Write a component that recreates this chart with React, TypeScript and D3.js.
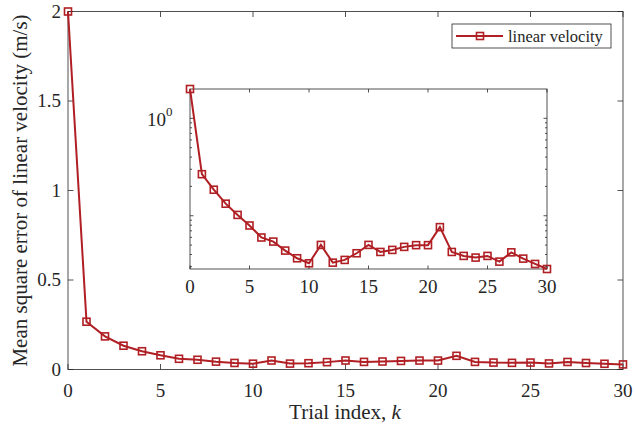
import React from "react";
import * as d3 from "d3";

const trials = d3.range(0, 31);
const mse = [
  2.0, 0.267, 0.185, 0.133, 0.102, 0.0794, 0.0598, 0.0543, 0.0439, 0.0366, 0.0325,
  0.0502, 0.033, 0.0352, 0.0412, 0.0502, 0.0425, 0.0446, 0.0479, 0.0499, 0.0499,
  0.0764, 0.0425, 0.0387, 0.0372, 0.0387, 0.0338, 0.0421, 0.0363, 0.032, 0.0284,
];
const mainXTicks = [0, 5, 10, 15, 20, 25, 30];
const mainYTicks = [0, 0.5, 1, 1.5, 2];
const mainYTickLabels = ["0", "0.5", "1", "1.5", "2"];
const insetXTicks = [0, 5, 10, 15, 20, 25, 30];
const insetMajorY = [0.1, 1];
const insetMinorY = [0.03, 0.04, 0.05, 0.06, 0.07, 0.08, 0.09, 0.2, 0.3, 0.4, 0.5, 0.6, 0.7, 0.8, 0.9];
const seriesName = "linear velocity";
const xLabel = "Trial index, ";
const yLabel = "Mean square error of linear velocity (m/s)";

const RED = "#B01F24";
const AX = "#262626";
const FONT = "Liberation Serif, Times New Roman, Times, serif";

function Marker({ x, y, s = 7 }: { x: number; y: number; s?: number }) {
  return (
    <rect x={x - s / 2} y={y - s / 2} width={s} height={s} fill="none" stroke={RED} strokeWidth={1.6} />
  );
}

export default function App() {
  const W = 635, H = 432;
  const x = d3.scaleLinear().domain([0, 30]).range([68, 623]);
  const y = d3.scaleLinear().domain([0, 2]).range([369.5, 11.5]);
  const ext = d3.extent(mse) as [number, number];
  const xi = d3.scaleLinear().domain([0, 30]).range([190, 547]);
  const yi = d3.scaleLog().domain(ext).range([269, 89]);

  const lineMain = d3.line<number>().x((_, i) => x(trials[i])).y((d) => y(d));
  const lineIn = d3.line<number>().x((_, i) => xi(trials[i])).y((d) => yi(d));

  const tl = 5.5;
  const tli = 3.5;
  const fsTick = 19;
  const fsLabel = 21;

  return (
    <svg width={W} height={H} style={{ position: "absolute", left: 0, top: 0, background: "#fff", fontFamily: FONT }}>
      <rect x={0} y={0} width={W} height={H} fill="#fff" />
      {/* main axes box */}
      <rect x={x(0)} y={y(2)} width={x(30) - x(0)} height={y(0) - y(2)} fill="#fff" stroke={AX} strokeWidth={0.8} />
      {mainXTicks.map((t) => (
        <g key={"mx" + t}>
          <line x1={x(t)} x2={x(t)} y1={y(0)} y2={y(0) - tl} stroke={AX} strokeWidth={0.8} />
          <line x1={x(t)} x2={x(t)} y1={y(2)} y2={y(2) + tl} stroke={AX} strokeWidth={0.8} />
          <text x={x(t)} y={397} textAnchor="middle" fontSize={fsTick} fill={AX}>{t}</text>
        </g>
      ))}
      {mainYTicks.map((t, i) => (
        <g key={"my" + t}>
          <line x1={x(0)} x2={x(0) + tl} y1={y(t)} y2={y(t)} stroke={AX} strokeWidth={0.8} />
          <line x1={x(30)} x2={x(30) - tl} y1={y(t)} y2={y(t)} stroke={AX} strokeWidth={0.8} />
          <text x={61} y={y(t) + fsTick * 0.33} textAnchor="end" fontSize={fsTick} fill={AX}>{mainYTickLabels[i]}</text>
        </g>
      ))}
      <path d={lineMain(mse) || ""} fill="none" stroke={RED} strokeWidth={2} />
      {mse.map((d, i) => <Marker key={"mm" + i} x={x(trials[i])} y={y(d)} />)}
      <text x={345} y={419} textAnchor="middle" fontSize={fsLabel} fill={AX}>
        {xLabel}<tspan fontStyle="italic">k</tspan>
      </text>
      <text transform={`translate(27, ${(y(0) + y(2)) / 2}) rotate(-90)`} textAnchor="middle" fontSize={fsLabel} fill={AX}>
        {yLabel}
      </text>

      {/* legend */}
      <rect x={452} y={24} width={159} height={24} fill="#fff" stroke={AX} strokeWidth={0.8} />
      <line x1={456} x2={503} y1={36} y2={36} stroke={RED} strokeWidth={2} />
      <Marker x={480} y={36} />
      <text x={508} y={41.5} fontSize={16.5} fill={AX}>{seriesName}</text>

      {/* inset */}
      <rect x={xi(0)} y={yi(ext[1])} width={xi(30) - xi(0)} height={yi(ext[0]) - yi(ext[1])} fill="#fff" stroke={AX} strokeWidth={0.8} />
      {insetXTicks.map((t) => (
        <g key={"ix" + t}>
          <line x1={xi(t)} x2={xi(t)} y1={269} y2={269 - tli} stroke={AX} strokeWidth={0.8} />
          <line x1={xi(t)} x2={xi(t)} y1={89} y2={89 + tli} stroke={AX} strokeWidth={0.8} />
          <text x={xi(t)} y={293} textAnchor="middle" fontSize={fsTick} fill={AX}>{t}</text>
        </g>
      ))}
      {insetMajorY.map((t) => (
        <g key={"iy" + t}>
          <line x1={190} x2={190 + tli} y1={yi(t)} y2={yi(t)} stroke={AX} strokeWidth={0.8} />
          <line x1={547} x2={547 - tli} y1={yi(t)} y2={yi(t)} stroke={AX} strokeWidth={0.8} />
        </g>
      ))}
      {insetMinorY.map((t) => (
        <g key={"im" + t}>
          <line x1={190} x2={192} y1={yi(t)} y2={yi(t)} stroke={AX} strokeWidth={0.8} />
          <line x1={547} x2={545} y1={yi(t)} y2={yi(t)} stroke={AX} strokeWidth={0.8} />
        </g>
      ))}
      <text x={166} y={yi(1) + 8} textAnchor="end" fontSize={fsTick} fill={AX}>10</text>
      <text x={166} y={yi(1) - 2} fontSize={13} fill={AX}>0</text>
      <path d={lineIn(mse) || ""} fill="none" stroke={RED} strokeWidth={2} />
      {mse.map((d, i) => <Marker key={"im" + i} x={xi(trials[i])} y={yi(d)} />)}
    </svg>
  );
}
